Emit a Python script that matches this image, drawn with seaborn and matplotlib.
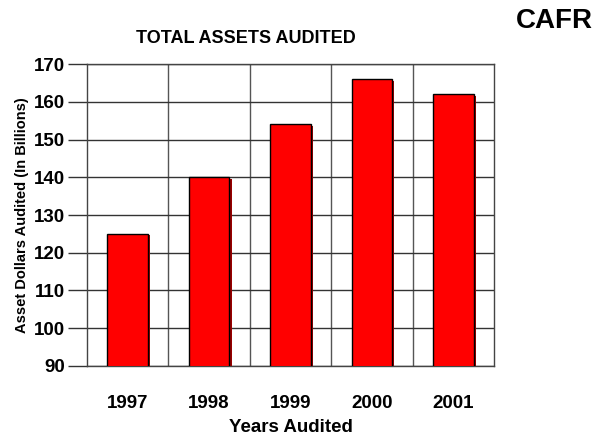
import pandas as pd
import seaborn as sns
import matplotlib.pyplot as plt
import matplotlib.patheffects as pe

# Datos
anios = ["1997", "1998", "1999", "2000", "2001"]
activos = [125, 140, 154, 166, 162]

df = pd.DataFrame({"Anio": anios, "Activos": activos})

sns.set_style("white")
plt.rcParams['font.family'] = ['Liberation Sans', 'DejaVu Sans']
plt.rcParams['text.color'] = "black"
plt.rcParams['axes.labelcolor'] = "black"
plt.rcParams['xtick.labelcolor'] = "black"
plt.rcParams['ytick.labelcolor'] = "black"

fig = plt.figure(figsize=(6.13, 4.37), dpi=100)
ax = fig.add_axes([0.1419, 0.1625, 0.664, 0.691])

sns.barplot(data=df, x="Anio", y="Activos", color="#ff0000", saturation=1,
            edgecolor="black", linewidth=1, width=0.5, ax=ax, zorder=3)

# sombra ligera de las barras
for p in ax.patches:
    p.set_path_effects([pe.SimplePatchShadow(offset=(1.5, -1), shadow_rgbFace="#990000", alpha=1),
                        pe.Normal()])

ax.set_ylim(90, 170)
ax.set_xlim(-0.5, 4.5)
ax.set_yticks(range(90, 171, 10))

# lineas de cuadricula entre categorias
ax.set_xticks([0.5, 1.5, 2.5, 3.5], minor=True)
ax.grid(which="minor", axis="x", color="#555555", linewidth=1, zorder=1)
ax.grid(which="major", axis="y", color="#333333", linewidth=1, zorder=1)
ax.grid(which="major", axis="x", visible=False)
ax.tick_params(axis="x", which="minor", length=0)
ax.tick_params(axis="x", which="major", direction="out", length=12, width=1,
               color="#555555", pad=9, labelsize=13.5, labelcolor="black")
ax.tick_params(axis="y", direction="out", length=14, width=1, color="#333333",
               pad=2, labelsize=13.5, left=True, labelcolor="black")

for lab in ax.get_xticklabels() + ax.get_yticklabels():
    lab.set_fontweight("bold")

for s in ax.spines.values():
    s.set_color("#444444")
    s.set_linewidth(1)
    s.set_visible(True)

ax.set_xlabel("Years Audited", fontsize=13.5, fontweight="bold", labelpad=5, color="black")
ax.set_ylabel("Asset Dollars Audited (In Billions)", fontsize=10.5, fontweight="bold", labelpad=3, color="black")

fig.text(0.401, 0.913, "TOTAL ASSETS AUDITED", fontsize=13, fontweight="bold", ha="center", va="center")
fig.text(0.905, 0.953, "CAFR", fontsize=20, fontweight="bold", ha="center", va="center")

plt.savefig("out.png", dpi=100)
